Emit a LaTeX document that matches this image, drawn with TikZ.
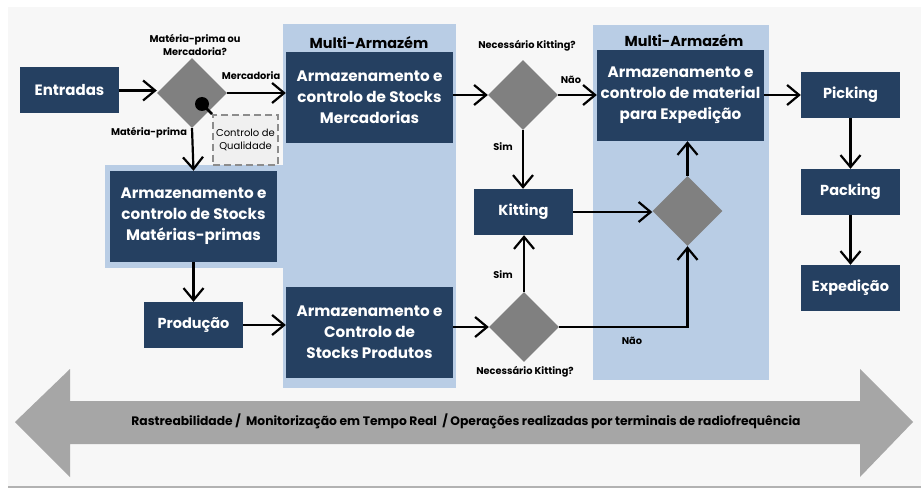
\documentclass[tikz,border=0pt]{standalone}
\usepackage{fontspec}
\setmainfont{Poppins}
\usetikzlibrary{shapes.geometric,arrows.meta,calc}
\definecolor{dblue}{HTML}{254061}
\definecolor{lblue}{HTML}{B9CDE5}
\definecolor{dgray}{HTML}{808080}
\definecolor{agray}{HTML}{A6A6A6}
\definecolor{bgp}{HTML}{F7F7F7}
\begin{document}
\begin{tikzpicture}[x=1pt,y=-1pt,
  box/.style={fill=dblue,text=white,font=\bfseries\fontsize{15.2}{21}\selectfont,align=center,inner sep=0pt},
  bigbox/.style={box,minimum width=167pt,minimum height=91pt},
  smallbox/.style={box,minimum width=99pt,minimum height=46pt,font=\bfseries\fontsize{14.5}{18}\selectfont},
  dec/.style={diamond,fill=dgray,minimum width=70pt,minimum height=70pt,inner sep=0pt,aspect=1},
  lbl/.style={font=\bfseries\fontsize{9.8}{13}\selectfont,align=center,inner sep=0pt},
  title/.style={font=\bfseries\fontsize{14.4}{16}\selectfont,inner sep=0pt},
  conn/.style={-{Straight Barb[length=12pt,width=20pt,line width=2.2pt]},line width=2.2pt}
]
\useasboundingbox (0,0) rectangle (921,489);
\fill[white] (0,0) rectangle (921,489);
\fill[bgp] (8,7) rectangle (921,486);
\draw[black!30,line width=1.5pt] (8,487) -- (921,487);
% light blue panels
\fill[lblue] (283,24) rectangle (456,388);
\fill[lblue] (105,165) rectangle (283,268);
\fill[lblue] (593,25) rectangle (769,380);
\node[title] (t1) at (369,43) {Multi-Armazém};
\node[title] (t2) at (684,41) {Multi-Armazém};
% nodes
\node[smallbox,font=\bfseries\fontsize{15}{18}\selectfont] (entr) at (69.5,90.5) {Entradas};
\node[dec] (d1) at (192,93) {};
\node[draw=black!45,fill=black!6,dashed,dash pattern=on 7pt off 4pt,line width=2pt,minimum width=65pt,minimum height=50pt,inner sep=0pt,align=center,font=\fontsize{10}{13.5}\selectfont] (qc) at (245.5,140) {Controlo de\\Qualidade};
\node[bigbox] (mp) at (193.5,216.5) {Armazenamento e\\controlo de Stocks\\Matérias-primas};
\node[smallbox] (prod) at (193.5,325) {Produção};
\node[bigbox] (merc) at (369.5,97.5) {Armazenamento e\\controlo de Stocks\\Mercadorias};
\node[bigbox] (prodt) at (369.5,332.5) {Armazenamento e\\Controlo de\\Stocks Produtos};
\node[dec] (d2) at (523,95) {};
\node[bigbox] (exp) at (680.5,95.5) {Armazenamento e\\controlo de material\\para Expedição};
\node[smallbox] (kit) at (523.5,212) {Kitting};
\node[dec] (d3) at (687.5,211) {};
\node[dec] (d4) at (524,327) {};
\node[smallbox] (pick) at (850.5,95) {Picking};
\node[smallbox] (pack) at (850.5,192) {Packing};
\node[smallbox] (expd) at (850.5,288) {Expedição};
% quality control marker
\coordinate (dot) at (202,104);
\draw[line width=2.5pt] (dot) -- (qc.north west);
\fill (dot) circle (7pt);
% labels
\node[lbl] (l1) at (195,45) {Matéria-prima ou\\Mercadoria?};
\node[lbl] (l2) at (251,76) {Mercadoria};
\node[lbl] (l3) at (149,133) {Matéria-prima};
\node[lbl] (l4) at (527,46) {Necessário Kitting?};
\node[lbl] (l5) at (571,80) {Não};
\node[lbl] (l6) at (503,147) {Sim};
\node[lbl] (l7) at (503,275) {Sim};
\node[lbl] (l8) at (632,341) {Não};
\node[lbl] (l9) at (525,372) {Necessário Kitting?};
% connectors
\draw[conn] (entr.east) -- (entr.east -| d1.west);
\draw[conn] (d1.east) -- (d1.east -| merc.west);
\draw[conn] (d1.south) -- (mp.north);
\draw[conn] (mp.south) -- (prod.north);
\draw[conn] (prod.east) -- (prod.east -| prodt.west);
\draw[conn] (prodt.east |- d4.west) -- (d4.west);
\draw[conn] (merc.east |- d2.west) -- (d2.west);
\draw[conn] (d2.east) -- (d2.east -| exp.west);
\draw[conn] (d2.south) -- (d2.south |- kit.north);
\draw[conn] (d4.north) -- (d4.north |- kit.south);
\draw[conn] (kit.east) -- (kit.east -| d3.west);
\draw[conn] (d3.north) -- (d3.north |- exp.south);
\draw[conn] (d4.east) -| (d3.south);
\draw[conn] (exp.east |- pick.west) -- (pick.west);
\draw[conn] (pick.south) -- (pack.north);
\draw[conn] (pack.south) -- (expd.north);
% big double arrow
\fill[agray] (15,422) -- (70,369) -- (70,401) -- (860,401) -- (860,369) -- (913,422) -- (860,477) -- (860,444) -- (70,444) -- (70,477) -- cycle;
\node[font=\bfseries\fontsize{12.3}{14}\selectfont,inner sep=0pt] (band) at (466,421) {Rastreabilidade /\ \ Monitorização em Tempo Real\ \ / Operações realizadas por terminais de radiofrequência};
\end{tikzpicture}
\end{document}
